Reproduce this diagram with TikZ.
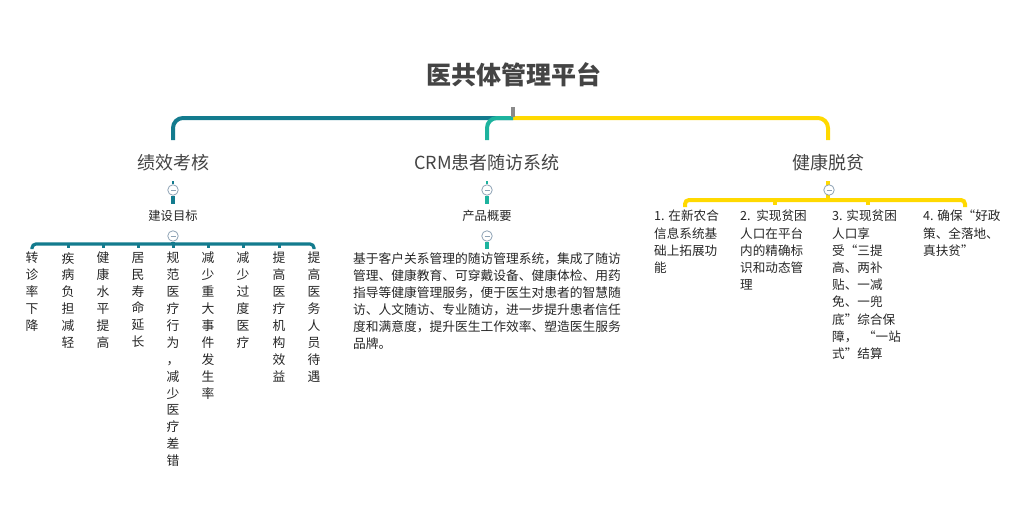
\documentclass[tikz,border=0pt]{standalone}
\usepackage{fontspec}
\setmainfont{Noto Sans CJK SC}
\usetikzlibrary{calc}
\definecolor{cA}{HTML}{137B8E}
\definecolor{cB}{HTML}{1DB39E}
\definecolor{cC}{HTML}{FFD900}
\definecolor{txt}{HTML}{262626}
\definecolor{ttl}{HTML}{444444}
\definecolor{mk}{HTML}{8FA3B5}
\definecolor{hubgray}{HTML}{8A8A8A}
\begin{document}
\begin{tikzpicture}[x=1pt,y=-1pt,
  title/.style={inner sep=0, text=ttl, font=\bfseries\fontsize{25}{30}\selectfont},
  branch/.style={inner sep=0, text=ttl, font=\fontsize{18}{22}\selectfont},
  sublbl/.style={inner sep=0, text=txt, font=\fontsize{12.3}{15}\selectfont},
  vcol/.style={inner sep=0, anchor=north, align=center, text=txt, font=\fontsize{12.8}{16.9}\selectfont},
  rcol/.style={inner sep=0, anchor=north west, align=left, text=txt, font=\fontsize{12.6}{17.2}\selectfont},
  para/.style={inner sep=0, anchor=north west, align=left, text=txt, font=\fontsize{12.75}{17}\selectfont},
  mainline/.style={line width=4, rounded corners=10},
  subline/.style={line width=3.2, rounded corners=4},
  bar/.style={line width=4.5},
  collapse/.style={circle, draw=mk, fill=white, line width=0.8, minimum size=10.5, inner sep=0,
    path picture={\draw[mk, line width=0.8] ([xshift=-2.5]path picture bounding box.center) -- ([xshift=2.5]path picture bounding box.center);}}
]
\useasboundingbox (0,0) rectangle (1028,519);

% root
\node[title] (root) at (514,75) {医共体管理平台};
\coordinate (hub) at (513,118);
\coordinate (mktop) at (513,107);

% branches
\node[branch] (b1) at (173,163) {绩效考核};
\node[branch] (b2) at (487,163) {CRM患者随访系统};
\node[branch] (b3) at (828,163) {健康脱贫};
\coordinate (b1t) at (173,140);
\coordinate (b2t) at (487,140);
\coordinate (b3t) at (828,140);

\draw[mainline, cA] (hub) -| (b1t);
\draw[mainline, cC] (hub) -| (b3t);
\draw[mainline, cB] (hub) -| (b2t);
\draw[hubgray, line width=3.5] (mktop) -- ($(hub)+(0,-1)$);

% ---------- branch 1 ----------
\node[collapse] (k1) at (173,190) {};
\draw[cA, line width=2] (k1.north) -- ++(0,-3);
\draw[cA, bar] (k1.south) -- ++(0,8);
\node[sublbl] (s1) at (173,216) {建设目标};
\node[collapse] (k1b) at (173,236) {};
\coordinate (hl) at (173,244);
\draw[cA, bar] (k1b.south) -- (hl);

\node[vcol] (l1) at (32,252) {转\\诊\\率\\下\\降};
\node[vcol] (l2) at (68,252) {疾\\病\\负\\担\\减\\轻};
\node[vcol] (l3) at (103,252) {健\\康\\水\\平\\提\\高};
\node[vcol] (l4) at (138,252) {居\\民\\寿\\命\\延\\长};
\node[vcol] (l5) at (173,252) {规\\范\\医\\疗\\行\\为\\，\\减\\少\\医\\疗\\差\\错};
\node[vcol] (l6) at (208,252) {减\\少\\重\\大\\事\\件\\发\\生\\率};
\node[vcol] (l7) at (243,252) {减\\少\\过\\度\\医\\疗};
\node[vcol] (l8) at (279,252) {提\\高\\医\\疗\\机\\构\\效\\益};
\node[vcol] (l9) at (314,252) {提\\高\\医\\务\\人\\员\\待\\遇};

\draw[cA, subline] ($(l1.north)+(0,-3)$) |- (hl) -| ($(l9.north)+(0,-3)$);
\foreach \n in {l2,l3,l4,l5,l6,l7,l8}
  \draw[cA, line width=3] (\n.north |- hl) -- ++(0,4);

% ---------- branch 2 ----------
\node[collapse] (k2) at (487,190) {};
\draw[cB, line width=2] (k2.north) -- ++(0,-3);
\draw[cB, bar] (k2.south) -- ++(0,8);
\node[sublbl] (s2) at (487,216) {产品概要};
\node[collapse] (k2b) at (487,236) {};
\node[para] (p) at (353,252) {基于客户关系管理的随访管理系统，集成了随访\\
管理、健康教育、可穿戴设备、健康体检、用药\\
指导等健康管理服务，便于医生对患者的智慧随\\
访、人文随访、专业随访，进一步提升患者信任\\
度和满意度，提升医生工作效率、塑造医生服务\\
品牌。};
\draw[cB, bar] (k2b.south) -- ($(k2b.south)+(0,7)$);

% ---------- branch 3 ----------
\coordinate (hr) at (829,200);
\node[rcol] (r1) at (654,210) {1. 在新农合\\信息系统基\\础上拓展功\\能};
\node[rcol] (r2) at (740,210) {2.~~实现贫困\\人口在平台\\内的精确标\\识和动态管\\理};
\node[rcol] (r3) at (832,210) {3. 实现贫困\\人口享\\受“三提\\高、两补\\贴、一减\\免、一兜\\底”综合保\\障，~~“一站\\式”结算};
\node[rcol] (r4) at (923,210) {4. 确保“好政\\策、全落地、\\真扶贫”};
\coordinate (e1) at (685,207);
\coordinate (e4) at (965,207);
\draw[cC, line width=4, rounded corners=4] (e1) |- (hr) -| (e4);
\coordinate (t2) at (775,200);
\coordinate (t3) at (868,200);
\draw[cC, line width=3.5] (t2) -- ++(0,5);
\draw[cC, line width=3.5] (t3) -- ++(0,5);
\draw[cC, line width=4] (b3.south |- hr) -- ($(b3.south)+(0,9)$);
\node[collapse] (k3) at (829,190) {};
\end{tikzpicture}
\end{document}
